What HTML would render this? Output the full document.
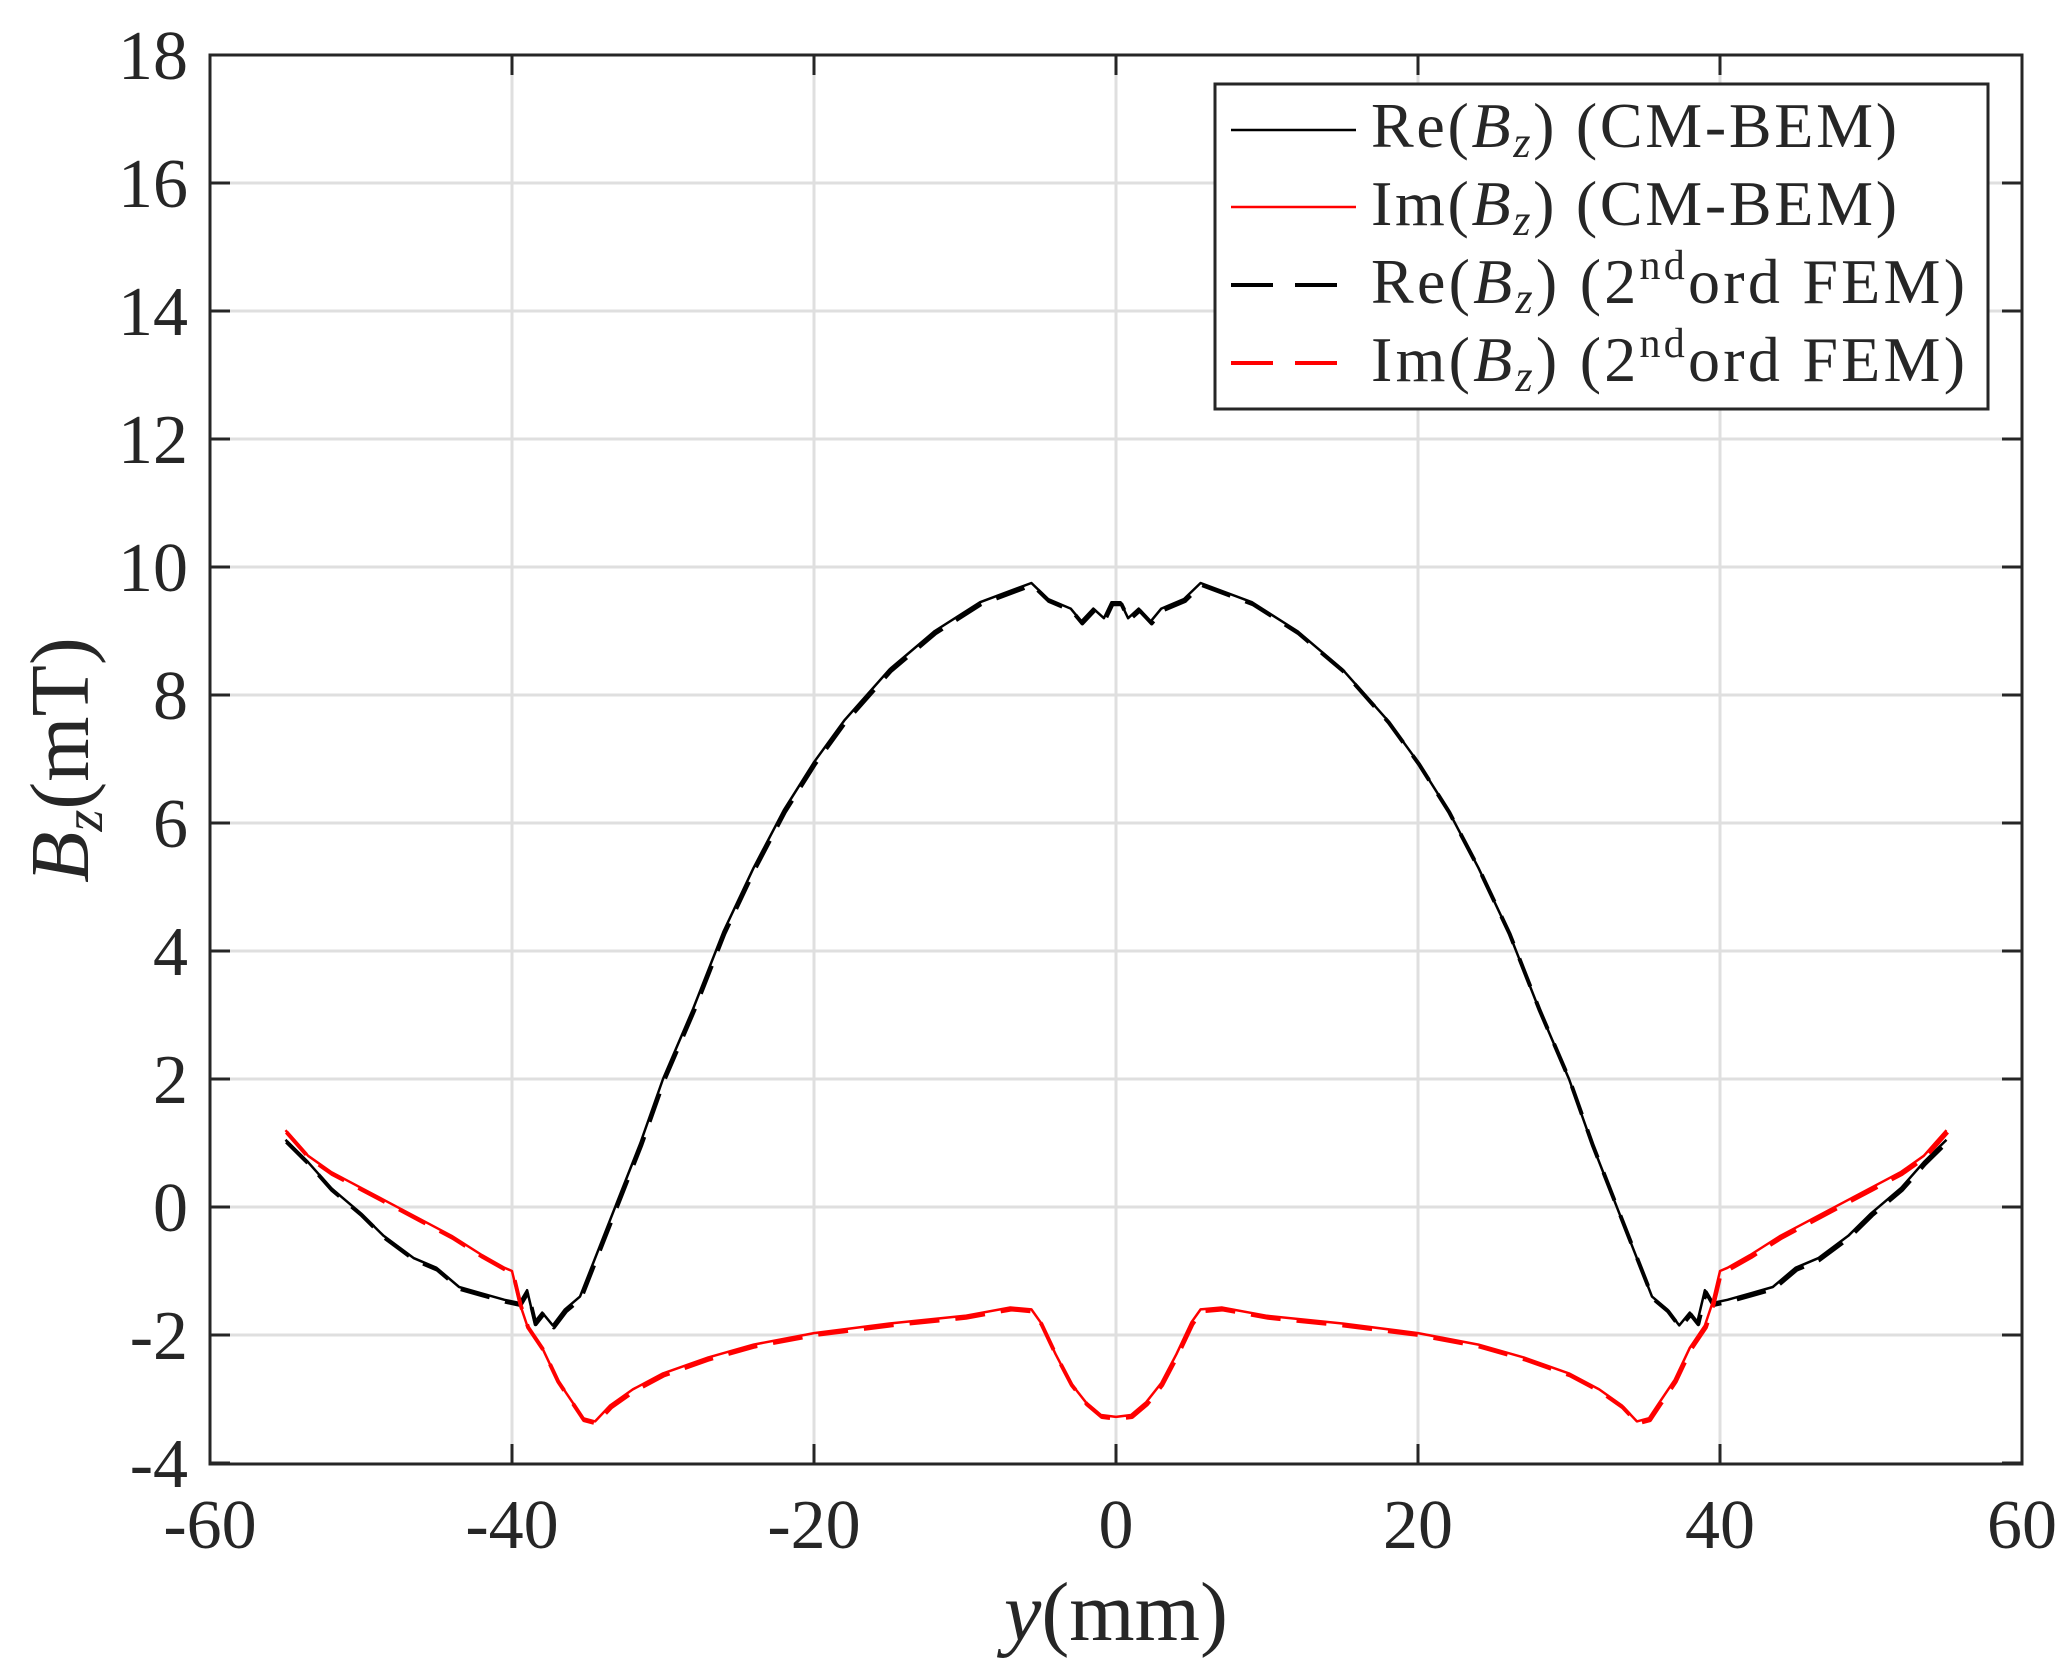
<!DOCTYPE html>
<html><head><meta charset="utf-8"><style>
html,body{margin:0;padding:0;background:#fff;}
svg{display:block;}
text{font-family:"Liberation Serif",serif;fill:#262626;}
</style></head><body>
<svg id="s" width="2064" height="1680" viewBox="0 0 2064 1680" xmlns="http://www.w3.org/2000/svg">
<g id="grid" stroke="#dfdfdf" stroke-width="3"></g>
<g id="curves" fill="none" stroke-linejoin="round"></g>
<rect x="210" y="55" width="1812" height="1409" fill="none" stroke="#262626" stroke-width="3"/>
<g id="ticks" stroke="#262626" stroke-width="3"></g>
<g id="labels" font-size="70"></g>
<text x="1116" y="1640" font-size="84" text-anchor="middle"><tspan font-style="italic">y</tspan>(mm)</text>
<text transform="translate(88,760) rotate(-90)" font-size="84" text-anchor="middle"><tspan font-style="italic">B</tspan><tspan font-style="italic" font-size="56" dy="14">z</tspan><tspan dy="-14">(mT)</tspan></text>
<rect x="1215" y="84" width="773" height="325" fill="#fff" stroke="#262626" stroke-width="3"/>
<line x1="1231" y1="130" x2="1356" y2="130" stroke="#000" stroke-width="2.5"/>
<line x1="1231" y1="207" x2="1356" y2="207" stroke="#f00" stroke-width="2.5"/>
<line x1="1231" y1="285" x2="1356" y2="285" stroke="#000" stroke-width="4" stroke-dasharray="42,22"/>
<line x1="1231" y1="363" x2="1356" y2="363" stroke="#f00" stroke-width="4" stroke-dasharray="42,22"/>
<g font-size="64" fill="#000">
<text x="1371" y="147" textLength="526" lengthAdjust="spacing">Re(<tspan font-style="italic">B</tspan><tspan font-style="italic" font-size="44" dy="10">z</tspan><tspan dy="-10">) (CM-BEM)</tspan></text>
<text x="1371" y="225" textLength="526" lengthAdjust="spacing">Im(<tspan font-style="italic">B</tspan><tspan font-style="italic" font-size="44" dy="10">z</tspan><tspan dy="-10">) (CM-BEM)</tspan></text>
<text x="1371" y="303" textLength="594" lengthAdjust="spacing">Re(<tspan font-style="italic">B</tspan><tspan font-style="italic" font-size="44" dy="10">z</tspan><tspan dy="-10">) (2</tspan><tspan font-size="42" dy="-24">nd</tspan><tspan dy="24">ord FEM)</tspan></text>
<text x="1371" y="381" textLength="594" lengthAdjust="spacing">Im(<tspan font-style="italic">B</tspan><tspan font-style="italic" font-size="44" dy="10">z</tspan><tspan dy="-10">) (2</tspan><tspan font-size="42" dy="-24">nd</tspan><tspan dy="24">ord FEM)</tspan></text>
</g>
</svg>
<script>
var NS="http://www.w3.org/2000/svg";
function X(v){return 1116+15.1*v;} function Y(b){return 1207-64*b;}
function el(p,t,a,txt){var e=document.createElementNS(NS,t);for(var k in a)e.setAttribute(k,a[k]);if(txt!=null)e.textContent=txt;document.getElementById(p).appendChild(e);return e;}
for(var v=-40;v<=40;v+=20){el("grid","line",{x1:X(v),y1:55,x2:X(v),y2:1464});}
for(var b=-2;b<=16;b+=2){el("grid","line",{x1:210,y1:Y(b),x2:2022,y2:Y(b)});}
for(var v=-60;v<=60;v+=20){el("ticks","line",{x1:X(v),y1:1464,x2:X(v),y2:1444});el("ticks","line",{x1:X(v),y1:55,x2:X(v),y2:75});
 el("labels","text",{x:X(v),y:1548,"text-anchor":"middle"},v);}
for(var b=-4;b<=18;b+=2){el("ticks","line",{x1:210,y1:Y(b),x2:230,y2:Y(b)});el("ticks","line",{x1:2022,y1:Y(b),x2:2002,y2:Y(b)});
 el("labels","text",{x:188,y:Y(b)+24,"text-anchor":"end"},b);}
var re=[[-55,1.05],[-53.5,0.7],[-52,0.3],[-50,-0.1],[-48.5,-0.45],[-46.5,-0.8],[-45,-0.95],[-43.5,-1.25],[-42,-1.35],[-40.5,-1.45],[-39.5,-1.5],[-39,-1.3],[-38.5,-1.8],[-38,-1.65],[-37.3,-1.85],[-36.5,-1.6],[-35.5,-1.4],[-34.5,-0.8],[-33,0.1],[-31.5,1.0],[-30,2],[-28,3.1],[-26,4.3],[-24,5.3],[-22,6.2],[-20,6.95],[-18,7.6],[-15,8.4],[-12,9.0],[-9,9.45],[-5.6,9.75],[-4.5,9.5],[-3,9.35],[-2.3,9.15],[-1.5,9.35],[-0.8,9.2],[-0.3,9.45],[0,9.45]];
var im=[[-55,1.2],[-53.5,0.8],[-52,0.55],[-50,0.3],[-48,0.05],[-46,-0.2],[-44,-0.45],[-42,-0.75],[-40.5,-0.95],[-40,-1.0],[-39.5,-1.5],[-39,-1.85],[-38,-2.2],[-37,-2.7],[-36,-3.05],[-35.3,-3.3],[-34.5,-3.35],[-33.5,-3.1],[-32,-2.85],[-30,-2.6],[-27,-2.35],[-24,-2.15],[-20,-1.97],[-15,-1.82],[-10,-1.7],[-7,-1.57],[-5.6,-1.6],[-5,-1.8],[-4,-2.3],[-3,-2.75],[-2,-3.05],[-1,-3.25],[0,-3.28]];
function sym(a){var o=a.slice();for(var i=a.length-2;i>=0;i--)o.push([-a[i][0],a[i][1]]);return o;}
function path(a,dx,dy){return a.map(function(p,i){return (i?"L":"M")+(X(p[0])+dx).toFixed(1)+","+(Y(p[1])+dy).toFixed(1);}).join("");}
var R=sym(re),I=sym(im);
el("curves","path",{d:path(R,0,0),stroke:"#000","stroke-width":2.5});
el("curves","path",{d:path(R,1,2),stroke:"#000","stroke-width":4,"stroke-dasharray":"30,16"});
el("curves","path",{d:path(I,0,0),stroke:"#f00","stroke-width":2.5});
el("curves","path",{d:path(I,1,2),stroke:"#f00","stroke-width":4,"stroke-dasharray":"30,16"});
</script>
</body></html>
